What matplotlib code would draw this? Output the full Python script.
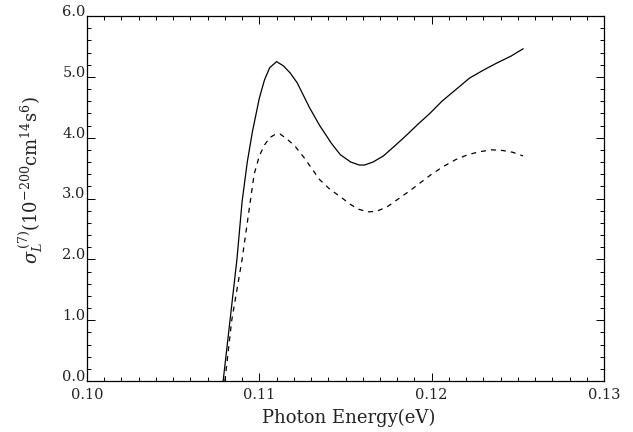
import matplotlib
matplotlib.use("Agg")
import matplotlib.pyplot as plt
from matplotlib.ticker import MultipleLocator

plt.rcParams['font.family'] = ['DejaVu Serif']
plt.rcParams['mathtext.fontset'] = 'dejavuserif'

solid_x = [0.1079, 0.1083, 0.1087, 0.1090, 0.1093, 0.1096, 0.1100, 0.1103, 0.1106,
           0.1110, 0.1114, 0.1118, 0.1122, 0.1129, 0.1135, 0.1142, 0.1147, 0.1153,
           0.1158, 0.1161, 0.1166, 0.1172, 0.1178, 0.1185, 0.1192, 0.1199, 0.1206,
           0.1214, 0.1222, 0.1230, 0.1238, 0.1246, 0.1253]
solid_y = [0.0, 1.0, 2.0, 2.95, 3.6, 4.1, 4.65, 4.95, 5.15,
           5.25, 5.18, 5.06, 4.90, 4.50, 4.20, 3.90, 3.72, 3.60,
           3.55, 3.55, 3.60, 3.70, 3.85, 4.03, 4.22, 4.40, 4.60,
           4.79, 4.98, 5.11, 5.23, 5.34, 5.46]

dash_x = [0.1080, 0.1084, 0.1090, 0.1094, 0.1097, 0.1100, 0.1103, 0.1106, 0.1109,
          0.1112, 0.1116, 0.1121, 0.1126, 0.1131, 0.1135, 0.1141, 0.1147, 0.1153,
          0.1158, 0.1163, 0.1168, 0.1174, 0.1180, 0.1187, 0.1193, 0.1200, 0.1207,
          0.1214, 0.1221, 0.1228, 0.1235, 0.1241, 0.1247, 0.1253]
dash_y = [0.0, 1.0, 2.0, 2.8, 3.4, 3.7, 3.88, 4.0, 4.05,
          4.06, 3.98, 3.85, 3.67, 3.47, 3.31, 3.15, 3.03, 2.90,
          2.82, 2.78, 2.79, 2.86, 2.98, 3.12, 3.25, 3.40, 3.53,
          3.64, 3.72, 3.77, 3.80, 3.79, 3.76, 3.70]

x_ticks = [0.10, 0.11, 0.12, 0.13]
x_ticklabels = ["0.10", "0.11", "0.12", "0.13"]
y_ticks = [0.0, 1.0, 2.0, 3.0, 4.0, 5.0, 6.0]
y_ticklabels = ["0.0", "1.0", "2.0", "3.0", "4.0", "5.0", "6.0"]

fig = plt.figure(figsize=(6.33, 4.32), dpi=100)
ax = fig.add_axes([87/633, 1-381/432, (604-87)/633, (381-16)/432])

ax.plot(solid_x, solid_y, color='black', lw=0.9, ls='-')
ax.plot(dash_x, dash_y, color='black', lw=0.9, ls=(0, (4, 4)))

ax.set_xlim(0.10, 0.13)
ax.set_ylim(0.0, 6.0)
ax.set_xticks(x_ticks)
ax.set_xticklabels(x_ticklabels)
ax.set_yticks(y_ticks)
ax.set_yticklabels(y_ticklabels)
for lab in ax.get_yticklabels():
    lab.set_verticalalignment('baseline')
ax.xaxis.set_minor_locator(MultipleLocator(0.001))
ax.yaxis.set_minor_locator(MultipleLocator(0.2))
ax.tick_params(which='both', direction='in', top=True, right=True, width=0.7, colors='black',
               labelsize=10.5, labelcolor='#222222')
ax.tick_params(which='major', length=6)
ax.tick_params(which='minor', length=3)
ax.tick_params(axis='y', pad=1)
ax.tick_params(axis='x', pad=5)
for s in ax.spines.values():
    s.set_linewidth(0.9)

ax.set_xlabel("Photon Energy(eV)", fontsize=13, color='#222222')
ax.xaxis.set_label_coords((349-87)/517, (381-409)/365)
ax.set_ylabel(r"$\sigma_L^{\,(7)}(10^{-200}\mathrm{cm}^{14}\mathrm{s}^6)$", fontsize=13,
              color='#222222')
ax.yaxis.set_label_coords((45-87)/517, (381-180)/365)

fig.savefig("out.png", dpi=100)
